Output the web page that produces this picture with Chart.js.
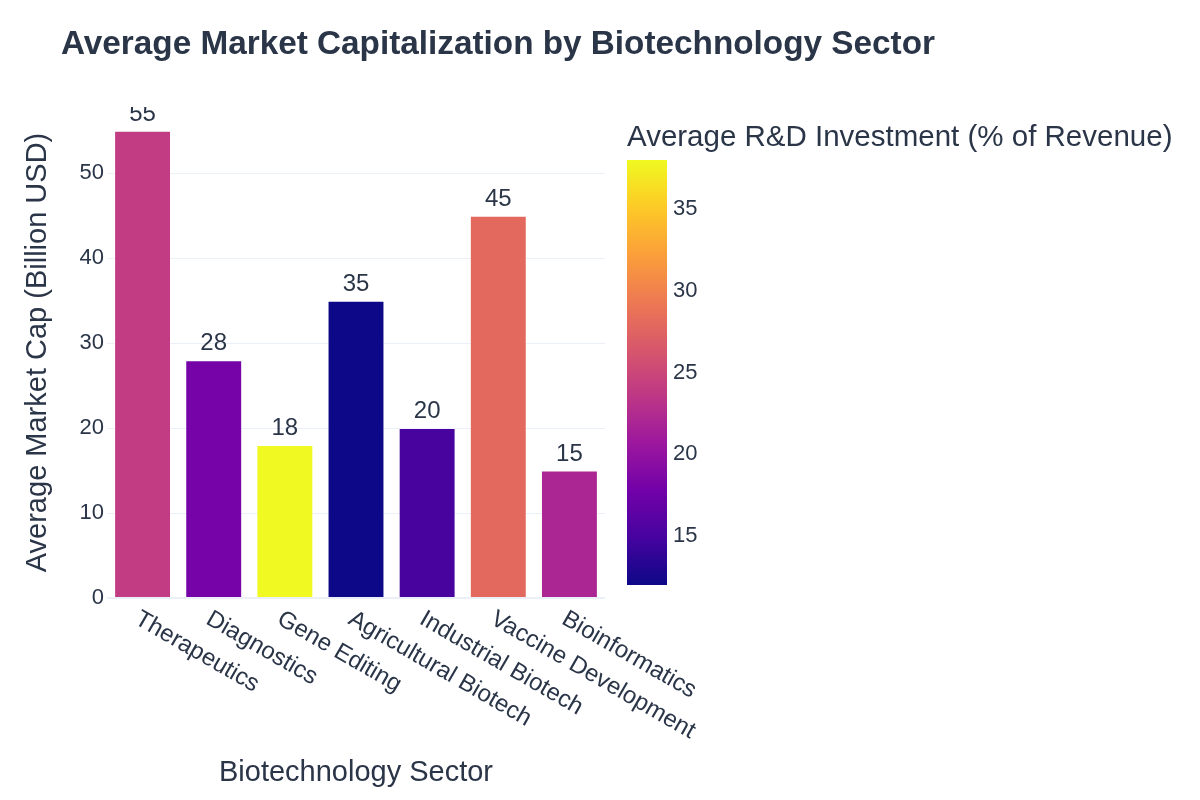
<!DOCTYPE html>
<html>
<head>
<meta charset="utf-8">
<script src="https://cdn.jsdelivr.net/npm/chart.js@4"></script>
<style>
  body { margin: 0; background: #fff; }
  #wrap { width: 1200px; height: 800px; }
</style>
</head>
<body>
<div id="wrap"><canvas id="chart" width="1200" height="800"></canvas></div>
<script>
const sectors = ['Therapeutics', 'Diagnostics', 'Gene Editing', 'Agricultural Biotech', 'Industrial Biotech', 'Vaccine Development', 'Bioinformatics'];
const marketCap = [55, 28, 18, 35, 20, 45, 15];
const rdInvestment = [24, 18, 38, 12, 15, 28, 22];
const colorbarTicks = [15, 20, 25, 30, 35];

const FONT = '"Liberation Sans", Arial, sans-serif';
const TEXT = '#2a3548';

// plotly "plasma" colorscale
const plasma = ['#0d0887', '#46039f', '#7201a8', '#9c179e', '#bd3786', '#d8576b', '#ed7953', '#fb9f3a', '#fdca26', '#f0f921'];
const cMin = Math.min(...rdInvestment);
const cMax = Math.max(...rdInvestment);

function hex(h) {
  return [parseInt(h.slice(1, 3), 16), parseInt(h.slice(3, 5), 16), parseInt(h.slice(5, 7), 16)];
}
function plasmaColor(v) {
  let t = (v - cMin) / (cMax - cMin);
  t = Math.max(0, Math.min(1, t)) * (plasma.length - 1);
  const i = Math.min(Math.floor(t), plasma.length - 2);
  const f = t - i;
  const a = hex(plasma[i]), b = hex(plasma[i + 1]);
  const c = a.map((x, k) => Math.round(x + (b[k] - x) * f));
  return 'rgb(' + c.join(',') + ')';
}

// colorbar geometry
const cbar = { left: 627, width: 40, top: 160, bottom: 585 };
function cbarY(v) {
  return cbar.bottom - (v - cMin) / (cMax - cMin) * (cbar.bottom - cbar.top);
}

const extras = {
  id: 'extras',
  afterDatasetsDraw(chart) {
    const ctx = chart.ctx;
    const area = chart.chartArea;
    const xs = chart.scales.x;

    // bar value labels (clipped to plot area like plotly)
    ctx.save();
    ctx.beginPath();
    ctx.rect(0, area.top, chart.width, chart.height - area.top);
    ctx.clip();
    ctx.font = '24px ' + FONT;
    ctx.fillStyle = TEXT;
    ctx.textAlign = 'center';
    ctx.textBaseline = 'alphabetic';
    chart.getDatasetMeta(0).data.forEach((bar, i) => {
      ctx.fillText(String(marketCap[i]), bar.x, bar.y - 10);
    });
    ctx.restore();

    // rotated category labels
    ctx.save();
    ctx.font = '24px ' + FONT;
    ctx.fillStyle = TEXT;
    ctx.textAlign = 'left';
    ctx.textBaseline = 'alphabetic';
    sectors.forEach((s, i) => {
      const px = xs.getPixelForValue(i);
      ctx.save();
      ctx.translate(px - 9, area.bottom + 25);
      ctx.rotate(30 * Math.PI / 180);
      ctx.fillText(s, 0, 0);
      ctx.restore();
    });
    ctx.restore();
  },
  afterDraw(chart) {
    const ctx = chart.ctx;
    const area = chart.chartArea;
    ctx.save();
    ctx.fillStyle = TEXT;

    // title
    ctx.font = 'bold 33.3px ' + FONT;
    ctx.textAlign = 'left';
    ctx.textBaseline = 'alphabetic';
    ctx.fillText('Average Market Capitalization by Biotechnology Sector', 61, 54);

    // axis titles
    ctx.font = '29px ' + FONT;
    ctx.textAlign = 'center';
    ctx.textBaseline = 'middle';
    ctx.fillText('Biotechnology Sector', (area.left + area.right) / 2, 773);
    ctx.save();
    ctx.translate(38, (area.top + area.bottom) / 2);
    ctx.rotate(-Math.PI / 2);
    ctx.fillText('Average Market Cap (Billion USD)', 0, 0);
    ctx.restore();

    // colorbar
    const g = ctx.createLinearGradient(0, cbar.bottom, 0, cbar.top);
    plasma.forEach((c, i) => g.addColorStop(i / (plasma.length - 1), c));
    ctx.fillStyle = g;
    ctx.fillRect(cbar.left, cbar.top, cbar.width, cbar.bottom - cbar.top);

    ctx.fillStyle = TEXT;
    ctx.font = '29.5px ' + FONT;
    ctx.textAlign = 'left';
    ctx.textBaseline = 'alphabetic';
    ctx.fillText('Average R&D Investment (% of Revenue)', 627, 146);

    ctx.font = '22px ' + FONT;
    ctx.textBaseline = 'middle';
    colorbarTicks.forEach(v => ctx.fillText(String(v), cbar.left + cbar.width + 6, cbarY(v)));
    ctx.restore();
  }
};

new Chart(document.getElementById('chart'), {
  type: 'bar',
  data: {
    labels: sectors,
    datasets: [{
      label: 'Average Market Cap',
      data: marketCap,
      backgroundColor: rdInvestment.map(plasmaColor),
      borderColor: 'rgba(255,255,255,0.35)',
      borderWidth: 1,
      categoryPercentage: 0.8,
      barPercentage: 1.0
    }]
  },
  options: {
    responsive: false,
    animation: false,
    layout: { padding: { left: 47, top: 107, right: 595, bottom: 202 } },
    plugins: {
      legend: { display: false },
      tooltip: { enabled: false }
    },
    scales: {
      x: {
        grid: { display: false, drawTicks: false },
        border: { display: false },
        ticks: { display: false },
        afterFit(s) { s.height = 0; }
      },
      y: {
        min: 0,
        max: 57.8,
        ticks: {
          stepSize: 10,
          padding: 3,
          color: TEXT,
          font: { family: FONT, size: 22 }
        },
        grid: {
          color: '#ebf0f8',
          lineWidth: c => (c.tick && c.tick.value === 0 ? 2 : 1),
          drawTicks: false
        },
        border: { display: false },
        afterBuildTicks(s) { s.ticks = s.ticks.filter(t => t.value % 10 === 0); },
        afterFit(s) { s.width = 60; }
      }
    }
  },
  plugins: [extras]
});
</script>
</body>
</html>
